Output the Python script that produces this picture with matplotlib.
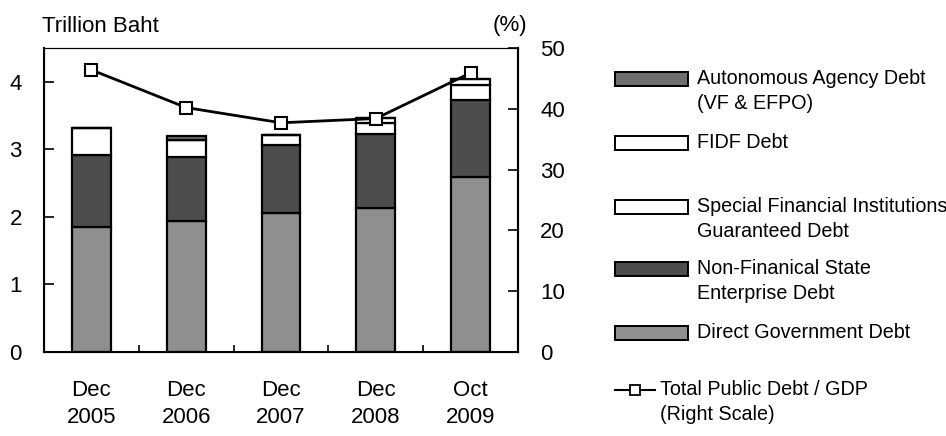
import matplotlib
matplotlib.use("Agg")
import matplotlib.pyplot as plt
from matplotlib.patches import Rectangle
from matplotlib.lines import Line2D
import numpy as np

plt.rcParams['font.family'] = ['Liberation Sans', 'DejaVu Sans']

# data (trillion baht, % of GDP)
periods = ["Dec\n2005", "Dec\n2006", "Dec\n2007", "Dec\n2008", "Oct\n2009"]
direct_gov = [1.85, 1.94, 2.06, 2.13, 2.59]
non_fin_se = [1.06, 0.95, 1.00, 1.09, 1.14]
sfi_guaranteed = [0.40, 0.25, 0.15, 0.17, 0.22]
fidf_debt = [0.00, 0.00, 0.00, 0.08, 0.09]
agency_debt = [0.00, 0.06, 0.00, 0.00, 0.00]
debt_to_gdp = [46.4, 40.2, 37.7, 38.4, 45.9]

series = [
    ("Direct Government Debt", direct_gov, "#8f8f8f"),
    ("Non-Finanical State\nEnterprise Debt", non_fin_se, "#4d4d4d"),
    ("Special Financial Institutions\nGuaranteed Debt", sfi_guaranteed, "white"),
    ("FIDF Debt", fidf_debt, "white"),
    ("Autonomous Agency Debt\n(VF & EFPO)", agency_debt, "#6e6e6e"),
]

W, H = 946, 436
fig = plt.figure(figsize=(W / 100, H / 100), dpi=100)
ax = fig.add_axes([44 / W, 1 - 352 / H, (518 - 44) / W, (352 - 48) / H])

x = np.arange(len(periods))
bottom = np.zeros(len(periods))
for name, vals, col in series:
    ax.bar(x, vals, width=0.41, bottom=bottom, color=col, edgecolor="black", linewidth=1.6, zorder=2)
    bottom += np.array(vals)

ax.set_xlim(-0.5, len(periods) - 0.5)
ax.set_ylim(0, 4.5)
ax.set_yticks([0, 1, 2, 3, 4])
ax.set_xticks(x)
ax.set_xticklabels(periods, fontsize=16, linespacing=1.4)
ax.set_xticks(np.arange(0.5, len(periods) - 0.5, 1), minor=True)
ax.tick_params(axis="x", which="major", length=0, pad=20)
ax.tick_params(axis="x", which="minor", direction="in", length=5, width=1.2)
ax.tick_params(axis="y", direction="in", length=7, width=1.2, labelsize=16, pad=16)
for s in ["left", "bottom", "right"]:
    ax.spines[s].set_linewidth(1.5)
ax.spines["top"].set_linewidth(0.8)

ax2 = ax.twinx()
ax2.plot(x, debt_to_gdp, color="black", linewidth=2, marker="s", markersize=9,
         markerfacecolor="white", markeredgecolor="black", markeredgewidth=1.5, zorder=3)
ax2.set_ylim(0, 50)
ax2.set_yticks([0, 10, 20, 30, 40, 50])
ax2.tick_params(axis="y", direction="in", length=7, width=1.2, labelsize=16, pad=16)
ax2.spines["right"].set_linewidth(1.5)

fig.text(42 / W, 1 - 26 / H, "Trillion Baht", fontsize=16, va="center", ha="left")
fig.text(510 / W, 1 - 26 / H, "(%)", fontsize=16, va="center", ha="center")

# legend drawn in pixel space
lax = fig.add_axes([0, 0, 1, 1])
lax.set_xlim(0, W)
lax.set_ylim(H, 0)
lax.axis("off")
handle_y = [79, 143, 207, 269, 333]
for (name, vals, col), yy in zip(series[::-1], handle_y):
    lax.add_patch(Rectangle((615, yy - 7), 73, 14, facecolor=col, edgecolor="black", linewidth=1.4))
    lax.text(697, yy - 10, name, fontsize=14.2, va="top", ha="left", linespacing=1.38)
lax.add_line(Line2D([615, 655], [390, 390], color="black", linewidth=1.5))
lax.plot([635], [390], marker="s", markersize=7, markerfacecolor="white",
         markeredgecolor="black", markeredgewidth=1.3)
lax.text(660, 380, "Total Public Debt / GDP\n(Right Scale)", fontsize=14.2, va="top", ha="left", linespacing=1.38)

fig.savefig("out.png", dpi=100)
